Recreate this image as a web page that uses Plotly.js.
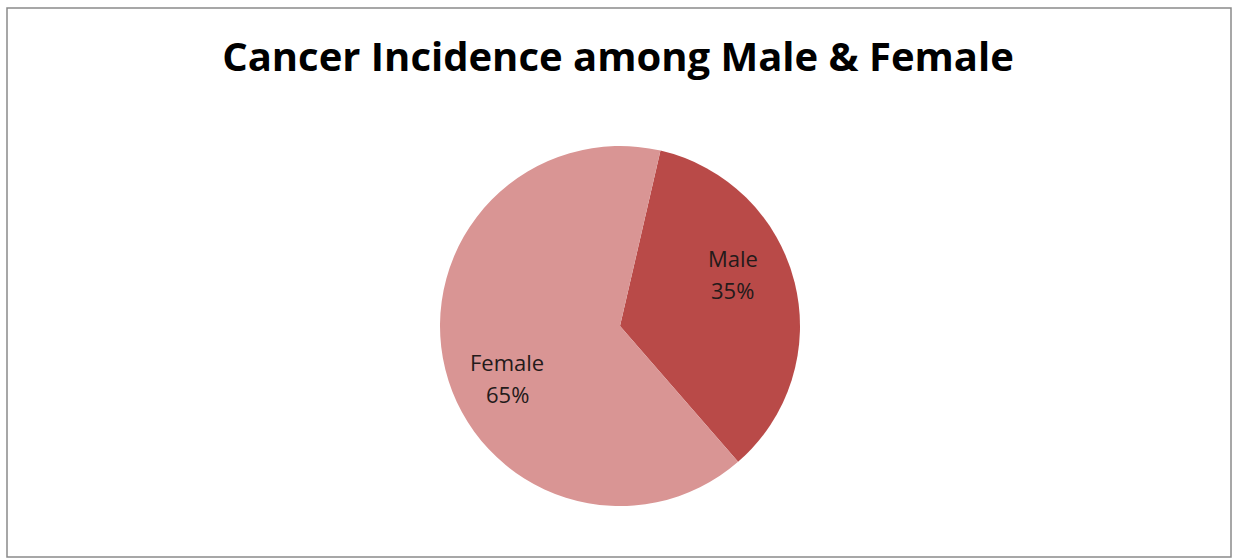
<!DOCTYPE html>
<html>
<head>
<meta charset="utf-8">
<script src="https://cdn.plot.ly/plotly-3.0.1.min.js"></script>
<style>html,body{margin:0;padding:0;background:#fff;}#chart{width:1233px;height:558px;}</style>
</head>
<body>
<div id="chart"></div>
<script>
const categories = ["Male", "Female"];
const shares = [35, 65];
const sliceColors = ["#B94A48", "#D99594"];

// pie geometry (layout, pixels)
const W = 1233, H = 558;
const cx = 620, cy = 326, R = 180;
const startRot = 13;          // degrees clockwise from 12 o'clock
const labelAngleShift = -11;  // Excel best-fit label offset
const labelRadius = 0.69;
const fontFam = "'Open Sans', Lato, sans-serif";

const data = [{
  type: "pie",
  labels: categories,
  values: shares,
  sort: false,
  direction: "clockwise",
  rotation: startRot,
  marker: {colors: sliceColors, line: {width: 0}},
  textinfo: "none",
  hoverinfo: "label+percent",
  domain: {x: [(cx - R) / W, (cx + R) / W], y: [(H - cy - R) / H, (H - cy + R) / H]},
  showlegend: false
}];

// label annotations derived from the data shares
const total = shares.reduce((a, b) => a + b, 0);
const annotations = [];
let acc = 0;
shares.forEach((v, i) => {
  const mid = startRot + (acc + v / 2) / total * 360 + labelAngleShift;
  acc += v;
  const a = mid * Math.PI / 180;
  const px = cx + labelRadius * R * Math.sin(a);
  const py = cy - labelRadius * R * Math.cos(a);
  const pct = Math.round(v / total * 100) + "%";
  [[categories[i], 16], [pct, -16]].forEach(([t, sh]) => {
    annotations.push({
      xref: "paper", yref: "paper",
      x: px / W, y: 1 - py / H,
      xanchor: "center", yanchor: "middle",
      yshift: sh,
      text: t, showarrow: false,
      font: {family: fontFam, size: 22, color: "#231a1a"}
    });
  });
});

const layout = {
  width: W, height: H,
  margin: {l: 0, r: 0, t: 0, b: 0},
  paper_bgcolor: "#fff",
  title: {
    text: "<b>Cancer Incidence among Male & Female</b>",
    font: {family: fontFam, size: 40, color: "#000"},
    x: 618 / W, xanchor: "center",
    y: 1 - 57 / H, yanchor: "middle"
  },
  annotations: annotations,
  shapes: [{
    type: "rect", xref: "paper", yref: "paper",
    x0: 7 / W, x1: 1231 / W, y0: 1 / H, y1: 1 - 8 / H,
    line: {color: "#8a8a8a", width: 1.5}, fillcolor: "rgba(0,0,0,0)"
  }],
  showlegend: false
};

Plotly.newPlot("chart", data, layout, {displayModeBar: false, staticPlot: true});
</script>
</body>
</html>
